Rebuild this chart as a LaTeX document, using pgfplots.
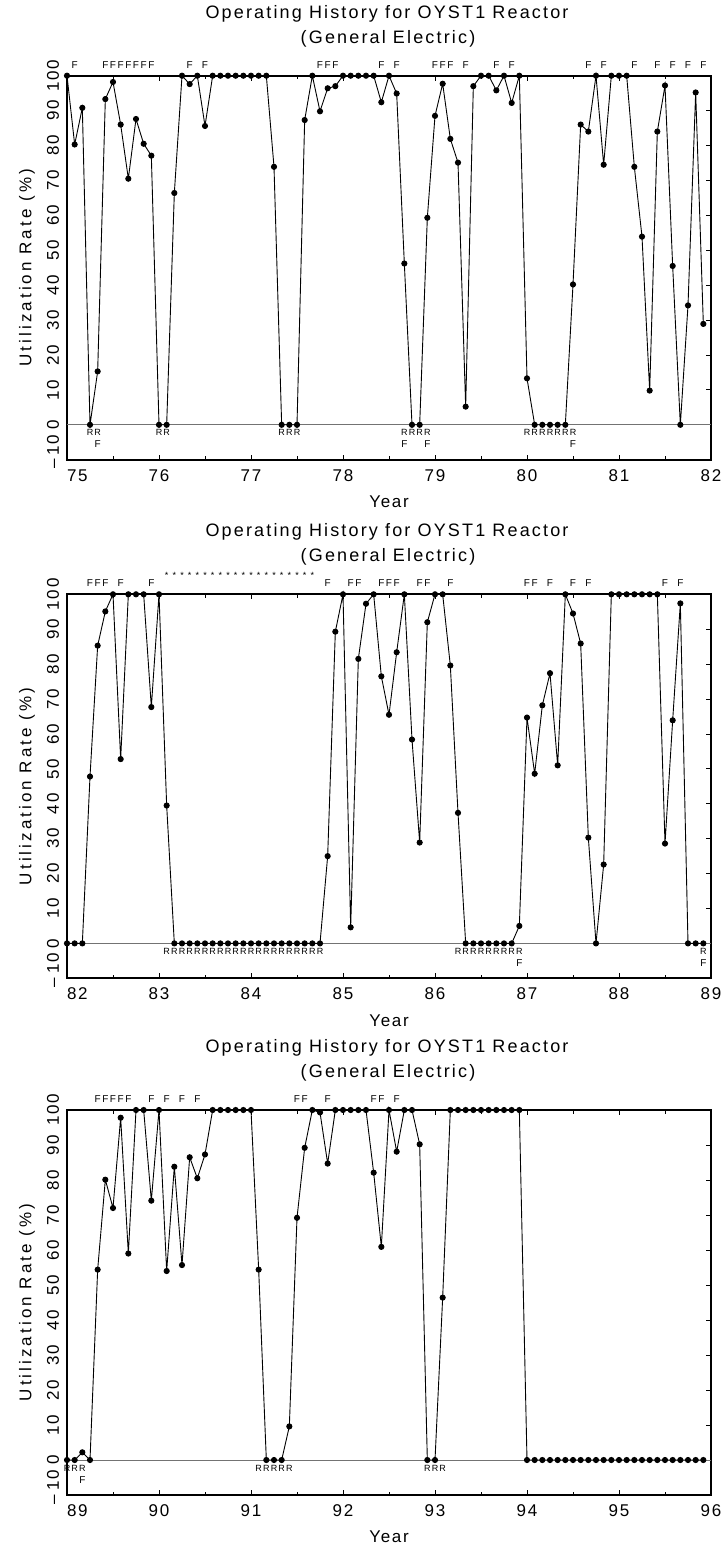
\documentclass[border=0pt]{standalone}
\usepackage{fontspec}
\setmainfont{Liberation Sans}
\newfontfamily\hf[LetterSpace=10]{Liberation Sans}
\newfontfamily\hft[LetterSpace=12]{Liberation Sans}
\newfontfamily\hfy[LetterSpace=18]{Liberation Sans}
\usepackage{pgfplots}
\pgfplotsset{compat=1.18}
\usepackage{pgfplotstable}
\usetikzlibrary{plotmarks}

% Panel 1: 1975-1981, monthly utilization (%)
\pgfplotstableread[row sep=\\]{u\\100\\80.3\\90.8\\0\\15.3\\93.3\\98.2\\86.0\\70.5\\87.6\\80.5\\77.1\\
0\\0\\66.4\\100\\97.6\\100\\85.6\\100\\100\\100\\100\\100\\
100\\100\\100\\73.9\\0\\0\\0\\87.3\\100\\89.8\\96.4\\97.0\\
100\\100\\100\\100\\100\\92.4\\100\\94.9\\46.2\\0\\0\\59.3\\
88.5\\97.7\\81.9\\75.1\\5.2\\97.0\\100\\100\\95.8\\100\\92.2\\100\\
13.3\\0\\0\\0\\0\\0\\40.2\\86.0\\84.0\\100\\74.5\\100\\
100\\100\\73.9\\53.9\\9.8\\84.0\\97.2\\45.5\\0\\34.2\\95.2\\28.9\\}\tA
% Panel 2: 1982-1988
\pgfplotstableread[row sep=\\]{u\\0\\0\\0\\47.8\\85.3\\95.1\\100\\52.8\\100\\100\\100\\67.7\\
100\\39.5\\0\\0\\0\\0\\0\\0\\0\\0\\0\\0\\
0\\0\\0\\0\\0\\0\\0\\0\\0\\0\\25.0\\89.3\\
100\\4.6\\81.5\\97.3\\100\\76.5\\65.5\\83.4\\100\\58.4\\28.9\\92.0\\
100\\100\\79.6\\37.4\\0\\0\\0\\0\\0\\0\\0\\5.0\\
64.7\\48.6\\68.2\\77.4\\51.0\\100\\94.5\\85.9\\30.3\\0\\22.6\\100\\
100\\100\\100\\100\\100\\100\\28.6\\63.9\\97.4\\0\\0\\0\\}\tB
% Panel 3: 1989-1995
\pgfplotstableread[row sep=\\]{u\\0\\0\\2.2\\0\\54.4\\80.1\\72.0\\97.8\\59.0\\100\\100\\74.1\\
100\\54.0\\83.8\\55.7\\86.5\\80.5\\87.3\\100\\100\\100\\100\\100\\
100\\54.4\\0\\0\\0\\9.6\\69.2\\89.2\\100\\99.3\\84.7\\100\\
100\\100\\100\\100\\82.1\\60.9\\100\\88.1\\100\\100\\90.2\\0\\
0\\46.4\\100\\100\\100\\100\\100\\100\\100\\100\\100\\100\\
0\\0\\0\\0\\0\\0\\0\\0\\0\\0\\0\\0\\
0\\0\\0\\0\\0\\0\\0\\0\\0\\0\\0\\0\\}\tC

\pgfplotsset{
  panel/.style={
    scale only axis, width=644pt, height=384pt, anchor=north west,
    ymin=-10, ymax=100, clip=false,
    axis line style={line width=2pt},
    tick align=inside, major tick length=5pt, minor tick length=3.5pt,
    tick style={line width=0.8pt, black},
    minor x tick num=1,
    ytick={-10,0,10,20,30,40,50,60,70,80,90,100},
    yticklabels={\hspace*{16pt}–\hspace{4pt}10,0,10,20,30,40,50,60,70,80,90,100},
    ytick pos=right, yticklabel pos=left,
    tick label style={font=\hf\fontsize{17}{20}\selectfont},
    yticklabel style={rotate=90, anchor=south, inner xsep=0pt, inner ysep=7.7pt},
    xticklabel style={anchor=north, inner xsep=0pt, inner ysep=9.5pt},
  },
  dataline/.style={black, line width=0.9pt, mark=*, mark size=2.6pt, mark options={solid, fill=black}},
  Ft/.style={only marks, mark=text, text mark=F, text mark as node=true,
    text mark style={font=\fontsize{10}{10}\selectfont, inner sep=0pt}},
  Rb/.style={only marks, mark=text, text mark=R, text mark as node=true,
    text mark style={font=\fontsize{9}{9}\selectfont, inner sep=0pt}},
  St/.style={only marks, mark=text, text mark=*, text mark as node=true,
    text mark style={font=\fontsize{9}{9}\selectfont, inner sep=0pt}},
}
\newcommand{\ttl}[2]{%
  \node[font=\hft\fontsize{18}{20}\selectfont] at (387pt,#1) {Operating History for OYST1 Reactor};
  \node[font=\hft\fontsize{18}{20}\selectfont] at (388pt,#2) {(General Electric)};}
\newcommand{\ylab}[1]{%
  \node[font=\hfy\fontsize{17}{20}\selectfont, rotate=90] at (27pt,#1) {Utilization Rate (\%)};}

\begin{document}
\begin{tikzpicture}
\useasboundingbox (0pt,0pt) rectangle (723pt,-1553pt);
% ---------------- Panel 1 ----------------
\ttl{-13.7pt}{-38.7pt}
\begin{axis}[panel, at={(67pt,-75.7pt)}, xmin=75, xmax=82, xtick={75,...,82},
  xticklabels={\hphantom{75}75,76,77,78,79,80,81,82}]
\draw[black!55, line width=0.8pt] (axis cs:75,0) -- (axis cs:82,0);
\addplot[dataline] table[x expr=75+\coordindex/12, y=u] {\tA};
\addplot[Ft] table[row sep=\\, x expr=75+\thisrow{k}/12, y expr=103.1]
 {k\\1\\5\\6\\7\\8\\9\\10\\11\\16\\18\\33\\34\\35\\41\\43\\48\\49\\50\\52\\56\\58\\68\\70\\74\\77\\79\\81\\83\\};
\addplot[Rb] table[row sep=\\, x expr=75+\thisrow{k}/12, y expr=-2.3]
 {k\\3\\4\\12\\13\\28\\29\\30\\44\\45\\46\\47\\60\\61\\62\\63\\64\\65\\66\\};
\addplot[Ft] table[row sep=\\, x expr=75+\thisrow{k}/12, y expr=-5.6]
 {k\\4\\44\\47\\66\\};
\end{axis}
\node[font=\hf\fontsize{17}{20}\selectfont] at (389pt,-501.7pt) {Year};
\ylab{-267.7pt}
% ---------------- Panel 2 ----------------
\ttl{-532.3pt}{-557.3pt}
\begin{axis}[panel, at={(67pt,-594.3pt)}, xmin=82, xmax=89, xtick={82,...,89},
  xticklabels={\hphantom{82}82,83,84,85,86,87,88,89}]
\draw[black!55, line width=0.8pt] (axis cs:82,0) -- (axis cs:89,0);
\addplot[dataline] table[x expr=82+\coordindex/12, y=u] {\tB};
\addplot[Ft] table[row sep=\\, x expr=82+\thisrow{k}/12, y expr=103.1]
 {k\\3\\4\\5\\7\\11\\34\\37\\38\\41\\42\\43\\46\\47\\50\\60\\61\\63\\66\\68\\78\\80\\};
\addplot[St] table[row sep=\\, x expr=82+\thisrow{k}/12, y expr=105.4]
 {k\\13\\14\\15\\16\\17\\18\\19\\20\\21\\22\\23\\24\\25\\26\\27\\28\\29\\30\\31\\32\\};
\addplot[Rb] table[row sep=\\, x expr=82+\thisrow{k}/12, y expr=-2.3]
 {k\\13\\14\\15\\16\\17\\18\\19\\20\\21\\22\\23\\24\\25\\26\\27\\28\\29\\30\\31\\32\\33\\51\\52\\53\\54\\55\\56\\57\\58\\59\\83\\};
\addplot[Ft] table[row sep=\\, x expr=82+\thisrow{k}/12, y expr=-5.6]
 {k\\59\\83\\};
\end{axis}
\node[font=\hf\fontsize{17}{20}\selectfont] at (389pt,-1020.3pt) {Year};
\ylab{-786.3pt}
% ---------------- Panel 3 ----------------
\ttl{-1048pt}{-1073pt}
\begin{axis}[panel, at={(67pt,-1110pt)}, height=385pt, xmin=89, xmax=96, xtick={89,...,96},
  xticklabels={\hphantom{89}89,90,91,92,93,94,95,96}]
\draw[black!55, line width=0.8pt] (axis cs:89,0) -- (axis cs:96,0);
\addplot[dataline] table[x expr=89+\coordindex/12, y=u] {\tC};
\addplot[Ft] table[row sep=\\, x expr=89+\thisrow{k}/12, y expr=103.1]
 {k\\4\\5\\6\\7\\8\\11\\13\\15\\17\\30\\31\\34\\40\\41\\43\\};
\addplot[Rb] table[row sep=\\, x expr=89+\thisrow{k}/12, y expr=-2.3]
 {k\\0\\1\\2\\25\\26\\27\\28\\29\\47\\48\\49\\};
\addplot[Ft] table[row sep=\\, x expr=89+\thisrow{k}/12, y expr=-5.6]
 {k\\2\\};
\end{axis}
\node[font=\hf\fontsize{17}{20}\selectfont] at (389pt,-1537pt) {Year};
\ylab{-1302.5pt}
\end{tikzpicture}
\end{document}
